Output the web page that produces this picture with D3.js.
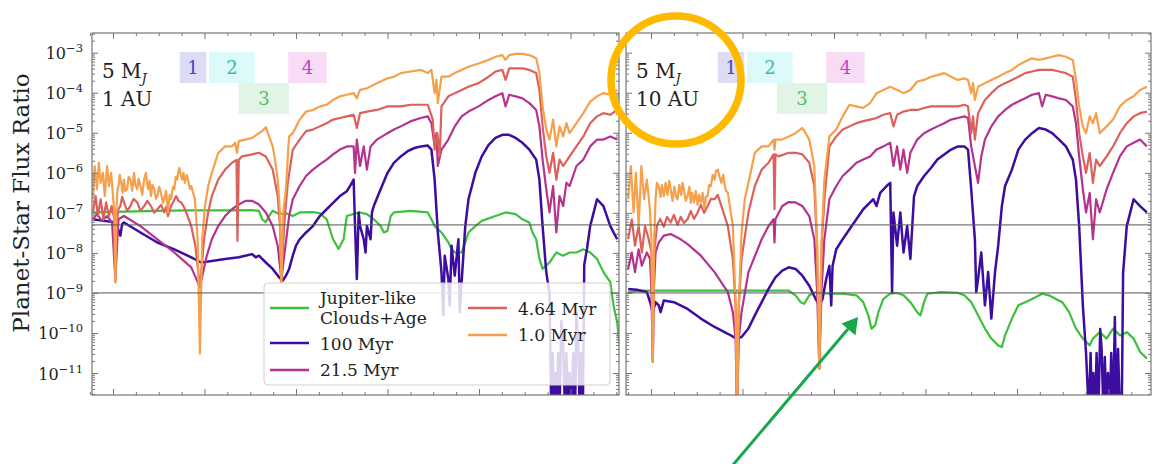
<!DOCTYPE html>
<html>
<head>
<meta charset="utf-8">
<script src="https://cdn.jsdelivr.net/npm/d3@7"></script>
<style>
  body { margin: 0; background: #fff; }
  svg { display: block; }
  text { font-family: "DejaVu Serif", serif; fill: #222; }
</style>
</head>
<body>
<div id="chart"></div>
<script>
// planet-star flux ratio spectra, 5 MJ at 1 AU and 10 AU
// points are [wavelength in micron, log10 of flux ratio]

const au1Green = [[0.356,-6.99],[0.424,-6.97],[0.497,-6.95],[0.571,-6.94],[0.645,-6.94],[0.704,-6.93],[0.719,-6.95],[0.726,-7.16],[0.734,-7.23],[0.741,-7.08],[0.749,-6.95],[0.763,-7.03],[0.778,-7.01],[0.793,-7.08],[0.808,-6.99],[0.837,-6.98],[0.852,-7.01],[0.867,-7.16],[0.874,-7.41],[0.881,-7.66],[0.893,-7.90],[0.904,-7.66],[0.911,-7.08],[0.926,-7.03],[0.940,-6.99],[0.955,-7.03],[0.970,-7.16],[0.985,-7.33],[0.992,-7.49],[1.000,-7.45],[1.007,-7.08],[1.014,-6.99],[1.051,-6.95],[1.088,-6.99],[1.096,-7.16],[1.103,-7.33],[1.118,-7.49],[1.133,-7.74],[1.140,-7.90],[1.147,-7.99],[1.162,-7.99],[1.170,-7.74],[1.177,-7.49],[1.192,-7.33],[1.206,-7.20],[1.236,-7.08],[1.258,-6.99],[1.280,-7.03],[1.295,-7.16],[1.310,-7.24],[1.317,-7.49],[1.325,-7.66],[1.332,-8.15],[1.339,-8.40],[1.354,-8.24],[1.369,-7.99],[1.384,-8.07],[1.398,-7.99],[1.413,-7.99],[1.428,-7.91],[1.443,-7.99],[1.458,-8.15],[1.472,-8.48],[1.487,-8.73],[1.494,-9.31],[1.502,-9.73],[1.508,-10.39]];

const au1Myr100 = [[0.356,-7.16],[0.379,-7.20],[0.401,-7.23],[0.409,-7.33],[0.416,-7.57],[0.420,-7.28],[0.424,-7.24],[0.460,-7.49],[0.497,-7.74],[0.534,-7.91],[0.571,-8.11],[0.593,-8.24],[0.616,-8.20],[0.645,-8.15],[0.675,-8.11],[0.689,-8.07],[0.704,-8.03],[0.712,-8.11],[0.719,-8.07],[0.734,-8.24],[0.749,-8.40],[0.763,-8.61],[0.771,-8.69],[0.778,-8.57],[0.785,-8.40],[0.793,-8.07],[0.800,-7.82],[0.808,-7.66],[0.822,-7.49],[0.837,-7.33],[0.852,-7.08],[0.867,-6.91],[0.881,-6.75],[0.896,-6.58],[0.911,-6.46],[0.918,-6.33],[0.926,-6.17],[0.929,-7.33],[0.933,-8.65],[0.937,-6.99],[0.940,-7.33],[0.948,-7.66],[0.952,-7.99],[0.955,-7.33],[0.963,-7.66],[0.966,-6.99],[0.970,-6.83],[0.985,-6.41],[1.000,-6.00],[1.014,-5.75],[1.029,-5.59],[1.044,-5.46],[1.059,-5.38],[1.073,-5.34],[1.088,-5.32],[1.096,-5.42],[1.103,-6.17],[1.110,-7.49],[1.118,-8.48],[1.122,-9.56],[1.125,-8.07],[1.133,-8.65],[1.136,-9.31],[1.140,-7.82],[1.147,-8.57],[1.155,-7.66],[1.158,-9.48],[1.162,-8.73],[1.170,-7.33],[1.177,-6.66],[1.192,-6.00],[1.206,-5.59],[1.221,-5.30],[1.236,-5.13],[1.251,-5.05],[1.266,-5.05],[1.280,-5.13],[1.295,-5.25],[1.310,-5.42],[1.325,-5.67],[1.332,-6.17],[1.339,-7.33],[1.347,-8.48],[1.354,-9.0],[1.358,-12],[1.361,-10.5],[1.364,-12],[1.367,-11],[1.370,-12],[1.373,-10.5],[1.376,-12],[1.380,-9.7],[1.384,-10.3],[1.388,-12],[1.391,-10.5],[1.395,-12],[1.398,-11],[1.402,-12],[1.406,-10.5],[1.410,-12],[1.413,-9.5],[1.417,-10.3],[1.420,-12],[1.423,-10.5],[1.427,-12],[1.430,-8.3],[1.436,-7.9],[1.443,-7.33],[1.458,-6.66],[1.472,-6.83],[1.487,-7.33],[1.502,-7.66]];

const au1Myr21 = [[0.356,-7.16],[0.365,-7.03],[0.376,-7.20],[0.387,-7.08],[0.398,-7.24],[0.405,-8.65],[0.412,-7.16],[0.424,-7.08],[0.460,-7.33],[0.497,-7.66],[0.534,-7.99],[0.571,-8.36],[0.582,-8.65],[0.590,-8.86],[0.597,-8.48],[0.605,-8.07],[0.616,-7.66],[0.630,-7.33],[0.645,-7.08],[0.660,-6.91],[0.675,-6.79],[0.690,-6.70],[0.704,-6.70],[0.719,-6.79],[0.734,-6.99],[0.749,-7.33],[0.760,-7.82],[0.768,-8.65],[0.777,-7.82],[0.785,-7.08],[0.793,-6.66],[0.808,-6.33],[0.822,-6.08],[0.837,-5.92],[0.852,-5.79],[0.867,-5.67],[0.881,-5.54],[0.896,-5.42],[0.911,-5.34],[0.926,-5.34],[0.929,-6.00],[0.933,-5.17],[0.940,-5.83],[0.948,-5.34],[0.955,-5.92],[0.963,-5.34],[0.977,-5.17],[1.000,-5.01],[1.014,-4.92],[1.029,-4.84],[1.051,-4.71],[1.073,-4.63],[1.088,-4.59],[1.096,-4.76],[1.103,-5.34],[1.107,-5.01],[1.110,-5.83],[1.118,-5.42],[1.133,-5.17],[1.147,-4.84],[1.162,-4.59],[1.177,-4.47],[1.199,-4.34],[1.221,-4.18],[1.236,-4.09],[1.251,-4.01],[1.258,-4.34],[1.266,-4.05],[1.280,-4.09],[1.295,-4.14],[1.310,-4.26],[1.325,-4.43],[1.332,-4.84],[1.339,-5.67],[1.347,-6.41],[1.354,-6.99],[1.362,-6.33],[1.369,-7.49],[1.376,-6.58],[1.384,-6.83],[1.391,-6.25],[1.398,-6.33],[1.413,-5.83],[1.428,-5.67],[1.443,-5.34],[1.458,-5.17],[1.472,-5.17],[1.487,-5.09],[1.502,-5.17]];

const au1Myr4 = [[0.356,-6.99],[0.362,-6.58],[0.367,-7.08],[0.373,-6.66],[0.379,-7.16],[0.385,-6.74],[0.391,-7.08],[0.397,-6.83],[0.403,-7.16],[0.405,-8.73],[0.409,-7.16],[0.412,-6.90],[0.416,-6.83],[0.420,-6.60],[0.424,-6.74],[0.431,-6.95],[0.438,-6.83],[0.445,-6.65],[0.453,-6.74],[0.460,-6.95],[0.468,-6.83],[0.475,-6.70],[0.483,-6.83],[0.490,-7.00],[0.497,-6.91],[0.505,-6.80],[0.512,-6.99],[0.516,-6.85],[0.520,-7.08],[0.527,-6.83],[0.533,-6.70],[0.538,-6.58],[0.543,-6.70],[0.549,-6.74],[0.555,-6.85],[0.560,-6.99],[0.571,-7.33],[0.580,-7.82],[0.590,-8.86],[0.599,-7.66],[0.608,-6.99],[0.616,-6.58],[0.630,-6.17],[0.645,-5.92],[0.660,-5.75],[0.670,-5.68],[0.672,-7.70],[0.675,-5.67],[0.682,-5.59],[0.704,-5.54],[0.719,-5.50],[0.734,-5.59],[0.749,-5.92],[0.760,-6.58],[0.765,-7.33],[0.768,-8.73],[0.774,-7.33],[0.782,-6.25],[0.793,-5.42],[0.808,-5.17],[0.822,-4.96],[0.837,-4.92],[0.852,-4.84],[0.867,-4.76],[0.881,-4.67],[0.896,-4.63],[0.911,-4.59],[0.926,-4.55],[0.933,-4.88],[0.940,-4.51],[0.955,-4.47],[0.977,-4.43],[1.000,-4.34],[1.029,-4.34],[1.051,-4.30],[1.088,-4.30],[1.099,-4.67],[1.103,-5.42],[1.109,-5.01],[1.114,-5.59],[1.118,-4.34],[1.133,-4.09],[1.147,-4.01],[1.162,-3.93],[1.177,-3.85],[1.199,-3.76],[1.221,-3.60],[1.236,-3.47],[1.251,-3.43],[1.258,-3.68],[1.266,-3.39],[1.295,-3.39],[1.310,-3.43],[1.325,-3.51],[1.332,-3.93],[1.339,-4.84],[1.347,-5.59],[1.354,-6.00],[1.362,-5.50],[1.369,-6.17],[1.376,-5.67],[1.384,-5.83],[1.398,-5.59],[1.413,-5.34],[1.428,-5.09],[1.443,-4.76],[1.458,-4.59],[1.472,-4.51],[1.487,-4.55],[1.502,-4.43]];

const au1Myr1 = [[0.356,-6.66],[0.360,-5.83],[0.365,-6.41],[0.369,-5.75],[0.373,-6.25],[0.378,-6.00],[0.382,-6.58],[0.387,-5.83],[0.391,-6.33],[0.396,-6.00],[0.400,-6.58],[0.403,-6.99],[0.405,-8.73],[0.407,-6.99],[0.410,-6.40],[0.412,-6.33],[0.415,-6.05],[0.418,-6.25],[0.421,-6.50],[0.424,-6.17],[0.427,-6.45],[0.431,-6.41],[0.434,-6.10],[0.438,-6.17],[0.442,-6.45],[0.446,-6.00],[0.449,-6.30],[0.453,-6.41],[0.456,-6.15],[0.460,-6.33],[0.464,-6.55],[0.468,-6.17],[0.472,-6.00],[0.475,-6.30],[0.477,-6.41],[0.480,-6.20],[0.483,-6.58],[0.486,-6.30],[0.490,-6.41],[0.494,-6.65],[0.497,-6.58],[0.501,-6.35],[0.505,-6.50],[0.509,-6.75],[0.512,-6.66],[0.516,-6.45],[0.520,-6.99],[0.524,-6.55],[0.527,-6.66],[0.531,-6.35],[0.534,-6.41],[0.537,-6.10],[0.540,-6.17],[0.543,-5.95],[0.545,-5.88],[0.548,-6.05],[0.551,-6.17],[0.554,-6.00],[0.557,-6.25],[0.561,-6.05],[0.564,-6.17],[0.568,-6.40],[0.571,-6.33],[0.575,-6.50],[0.579,-6.66],[0.585,-7.66],[0.590,-10.51],[0.595,-7.66],[0.601,-6.83],[0.608,-6.33],[0.616,-6.00],[0.623,-5.75],[0.630,-5.50],[0.638,-5.42],[0.645,-5.34],[0.660,-5.34],[0.667,-5.25],[0.671,-5.50],[0.675,-5.21],[0.689,-5.17],[0.704,-5.13],[0.719,-5.01],[0.726,-4.96],[0.734,-4.86],[0.741,-5.09],[0.749,-5.34],[0.754,-5.67],[0.760,-6.17],[0.765,-6.99],[0.768,-8.73],[0.772,-6.99],[0.778,-6.41],[0.783,-5.42],[0.785,-5.09],[0.793,-5.01],[0.808,-4.67],[0.822,-4.47],[0.837,-4.43],[0.852,-4.34],[0.867,-4.30],[0.881,-4.18],[0.896,-4.09],[0.911,-4.05],[0.926,-4.01],[0.933,-4.14],[0.940,-3.93],[0.955,-3.89],[0.977,-3.76],[1.000,-3.64],[1.014,-3.60],[1.029,-3.51],[1.051,-3.47],[1.073,-3.43],[1.088,-3.51],[1.096,-3.43],[1.103,-4.01],[1.107,-3.68],[1.110,-4.26],[1.118,-3.60],[1.133,-3.60],[1.147,-3.51],[1.162,-3.43],[1.177,-3.35],[1.199,-3.27],[1.221,-3.18],[1.236,-3.10],[1.251,-3.06],[1.258,-3.18],[1.266,-3.06],[1.280,-3.03],[1.295,-3.03],[1.310,-3.06],[1.325,-3.14],[1.332,-3.51],[1.339,-4.34],[1.347,-4.92],[1.354,-5.17],[1.362,-4.67],[1.369,-5.34],[1.376,-4.84],[1.384,-5.09],[1.391,-4.76],[1.398,-5.01],[1.413,-4.76],[1.428,-4.51],[1.443,-4.22],[1.458,-4.09],[1.472,-4.01],[1.487,-4.05],[1.502,-3.93]];

const au10Green = [[0.350,-8.98],[0.376,-8.94],[0.413,-8.94],[0.480,-8.94],[0.554,-8.94],[0.627,-8.94],[0.701,-8.94],[0.716,-9.06],[0.727,-9.23],[0.735,-9.27],[0.746,-9.06],[0.760,-8.98],[0.790,-9.02],[0.819,-9.02],[0.849,-9.06],[0.864,-9.23],[0.875,-9.56],[0.882,-9.89],[0.890,-9.81],[0.897,-9.48],[0.908,-9.15],[0.923,-9.02],[0.938,-9.00],[0.952,-9.06],[0.967,-9.23],[0.982,-9.48],[0.989,-9.56],[0.997,-9.23],[1.004,-9.02],[1.034,-8.98],[1.071,-9.00],[1.085,-9.06],[1.100,-9.23],[1.115,-9.56],[1.130,-9.89],[1.144,-10.14],[1.159,-10.31],[1.167,-10.35],[1.174,-10.06],[1.189,-9.64],[1.203,-9.31],[1.218,-9.23],[1.233,-9.15],[1.255,-9.02],[1.270,-9.06],[1.285,-9.15],[1.299,-9.23],[1.314,-9.48],[1.329,-9.89],[1.344,-10.14],[1.359,-10.31],[1.366,-10.14],[1.381,-9.98],[1.396,-10.14],[1.410,-9.89],[1.425,-10.06],[1.440,-9.98],[1.455,-10.14],[1.469,-10.47],[1.484,-10.64]];

const au10Myr100 = [[0.350,-8.90],[0.369,-8.92],[0.391,-8.98],[0.398,-9.23],[0.404,-9.48],[0.410,-9.23],[0.417,-9.31],[0.421,-9.48],[0.428,-9.19],[0.450,-9.23],[0.480,-9.40],[0.509,-9.64],[0.539,-9.85],[0.568,-10.02],[0.587,-10.14],[0.598,-10.10],[0.613,-9.89],[0.627,-9.56],[0.642,-9.23],[0.657,-8.90],[0.672,-8.61],[0.687,-8.44],[0.701,-8.36],[0.716,-8.40],[0.731,-8.57],[0.746,-8.82],[0.760,-9.15],[0.768,-9.31],[0.775,-9.15],[0.783,-8.65],[0.790,-8.32],[0.794,-9.31],[0.797,-8.32],[0.805,-7.91],[0.819,-7.66],[0.834,-7.41],[0.849,-7.16],[0.864,-6.91],[0.879,-6.74],[0.886,-6.66],[0.893,-6.83],[0.901,-6.50],[0.915,-6.33],[0.923,-6.25],[0.927,-8.98],[0.930,-6.99],[0.938,-7.82],[0.945,-6.99],[0.952,-7.99],[0.960,-7.33],[0.967,-8.15],[0.975,-6.58],[0.982,-6.33],[0.997,-6.08],[1.012,-5.88],[1.026,-5.67],[1.041,-5.54],[1.056,-5.42],[1.071,-5.34],[1.085,-5.34],[1.093,-5.42],[1.100,-6.41],[1.108,-7.66],[1.111,-8.98],[1.115,-8.65],[1.122,-7.99],[1.130,-9.31],[1.137,-8.48],[1.144,-9.64],[1.152,-8.48],[1.159,-7.82],[1.167,-6.83],[1.174,-6.33],[1.189,-5.92],[1.203,-5.42],[1.218,-5.17],[1.233,-5.01],[1.248,-4.88],[1.263,-4.92],[1.277,-5.01],[1.292,-5.17],[1.307,-5.34],[1.322,-5.67],[1.329,-6.17],[1.336,-7.33],[1.344,-9.31],[1.351,-10.5],[1.357,-12],[1.361,-10.5],[1.364,-12],[1.367,-11],[1.371,-12],[1.374,-10.5],[1.378,-12],[1.382,-9.9],[1.385,-10.4],[1.389,-12],[1.392,-10.6],[1.396,-12],[1.399,-11],[1.403,-12],[1.406,-10.5],[1.410,-12],[1.414,-9.6],[1.417,-12],[1.421,-10.4],[1.425,-12],[1.429,-12],[1.432,-8.5],[1.440,-7.33],[1.455,-6.66],[1.469,-6.83],[1.484,-6.99]];

const au10Myr21 = [[0.350,-8.40],[0.358,-7.99],[0.365,-8.48],[0.373,-7.91],[0.380,-8.32],[0.391,-7.99],[0.398,-8.15],[0.401,-8.98],[0.404,-10.72],[0.406,-8.98],[0.410,-7.99],[0.417,-7.74],[0.428,-7.57],[0.443,-7.53],[0.465,-7.66],[0.480,-7.78],[0.509,-8.07],[0.539,-8.48],[0.568,-8.98],[0.579,-9.48],[0.585,-10.14],[0.588,-12],[0.592,-10.14],[0.598,-9.48],[0.613,-8.48],[0.642,-7.66],[0.657,-7.33],[0.668,-7.16],[0.670,-7.74],[0.672,-7.16],[0.687,-6.83],[0.701,-6.73],[0.716,-6.74],[0.731,-6.83],[0.746,-7.08],[0.757,-7.66],[0.763,-8.90],[0.768,-10.89],[0.773,-8.90],[0.779,-7.66],[0.790,-6.66],[0.805,-6.33],[0.819,-6.08],[0.834,-5.92],[0.849,-5.75],[0.864,-5.67],[0.879,-5.59],[0.893,-5.42],[0.908,-5.34],[0.923,-5.25],[0.930,-5.83],[0.938,-5.34],[0.945,-5.92],[0.952,-5.42],[0.960,-6.00],[0.967,-5.50],[0.982,-5.17],[0.997,-5.01],[1.012,-4.92],[1.026,-4.84],[1.041,-4.76],[1.056,-4.67],[1.071,-4.63],[1.085,-4.59],[1.093,-4.63],[1.100,-5.34],[1.108,-5.83],[1.115,-6.25],[1.122,-5.59],[1.130,-5.17],[1.144,-4.84],[1.159,-4.59],[1.174,-4.43],[1.189,-4.30],[1.203,-4.22],[1.218,-4.14],[1.233,-4.05],[1.248,-4.01],[1.255,-4.34],[1.263,-4.05],[1.277,-4.09],[1.292,-4.14],[1.307,-4.18],[1.322,-4.34],[1.329,-4.76],[1.336,-5.59],[1.344,-6.41],[1.351,-6.99],[1.359,-6.50],[1.366,-7.66],[1.373,-6.66],[1.381,-6.99],[1.396,-6.41],[1.410,-6.00],[1.425,-5.59],[1.440,-5.34],[1.455,-5.25],[1.469,-5.17],[1.484,-5.34]];

const au10Myr4 = [[0.350,-7.66],[0.358,-7.16],[0.365,-7.82],[0.373,-7.33],[0.380,-7.99],[0.387,-7.33],[0.395,-7.66],[0.401,-7.99],[0.404,-10.72],[0.407,-7.99],[0.413,-7.33],[0.420,-7.15],[0.428,-7.35],[0.435,-7.10],[0.443,-7.24],[0.450,-7.05],[0.458,-7.30],[0.465,-7.10],[0.472,-7.25],[0.480,-7.16],[0.487,-6.95],[0.494,-7.15],[0.502,-6.99],[0.509,-6.80],[0.516,-7.00],[0.524,-6.83],[0.531,-6.65],[0.539,-6.66],[0.546,-6.55],[0.554,-6.83],[0.568,-7.33],[0.579,-8.15],[0.585,-9.31],[0.588,-12],[0.592,-9.31],[0.598,-8.15],[0.613,-6.99],[0.627,-6.33],[0.642,-5.92],[0.657,-5.75],[0.668,-5.54],[0.670,-6.91],[0.672,-5.54],[0.679,-5.59],[0.701,-5.50],[0.716,-5.50],[0.731,-5.54],[0.746,-5.75],[0.757,-6.33],[0.763,-7.82],[0.768,-10.89],[0.773,-7.82],[0.779,-6.66],[0.790,-5.34],[0.805,-5.09],[0.819,-4.92],[0.834,-4.84],[0.849,-4.76],[0.864,-4.71],[0.879,-4.67],[0.893,-4.63],[0.908,-4.55],[0.923,-4.51],[0.930,-4.84],[0.938,-4.55],[0.952,-4.47],[0.967,-4.43],[0.982,-4.43],[0.997,-4.38],[1.012,-4.34],[1.041,-4.34],[1.071,-4.34],[1.085,-4.30],[1.093,-4.34],[1.100,-5.01],[1.104,-4.59],[1.108,-5.17],[1.115,-4.51],[1.130,-4.18],[1.144,-4.01],[1.159,-3.85],[1.174,-3.76],[1.189,-3.68],[1.203,-3.60],[1.218,-3.51],[1.233,-3.47],[1.248,-3.43],[1.277,-3.43],[1.292,-3.47],[1.307,-3.51],[1.322,-3.60],[1.329,-4.18],[1.336,-5.01],[1.344,-5.59],[1.351,-6.00],[1.359,-5.50],[1.366,-6.25],[1.373,-5.67],[1.381,-5.83],[1.396,-5.59],[1.410,-5.34],[1.425,-5.01],[1.440,-4.76],[1.455,-4.59],[1.469,-4.51],[1.484,-4.47]];

const au10Myr1 = [[0.350,-6.66],[0.356,-5.83],[0.362,-6.99],[0.367,-6.00],[0.373,-7.33],[0.379,-5.83],[0.385,-6.66],[0.391,-6.17],[0.397,-6.83],[0.401,-7.66],[0.404,-10.72],[0.407,-7.66],[0.410,-6.66],[0.413,-6.25],[0.417,-6.33],[0.421,-6.60],[0.424,-6.30],[0.428,-6.58],[0.432,-6.25],[0.436,-6.55],[0.440,-6.20],[0.443,-6.41],[0.447,-6.70],[0.451,-6.35],[0.455,-6.60],[0.458,-6.66],[0.462,-6.30],[0.466,-6.55],[0.469,-6.25],[0.472,-6.41],[0.476,-6.70],[0.480,-6.58],[0.484,-6.35],[0.487,-6.75],[0.490,-6.50],[0.494,-6.74],[0.498,-6.45],[0.502,-6.80],[0.505,-6.55],[0.509,-6.74],[0.513,-6.50],[0.517,-6.91],[0.520,-6.60],[0.524,-6.58],[0.527,-6.30],[0.531,-6.33],[0.535,-6.05],[0.539,-6.17],[0.542,-5.95],[0.546,-5.92],[0.550,-6.10],[0.554,-6.25],[0.558,-6.05],[0.561,-6.30],[0.564,-6.45],[0.568,-6.50],[0.579,-7.33],[0.585,-9.31],[0.588,-12],[0.592,-9.31],[0.598,-7.49],[0.605,-6.66],[0.613,-6.25],[0.627,-5.50],[0.642,-5.34],[0.657,-5.34],[0.668,-5.17],[0.670,-5.42],[0.672,-5.17],[0.687,-5.17],[0.701,-5.09],[0.716,-5.01],[0.731,-4.88],[0.738,-5.01],[0.746,-5.17],[0.757,-5.83],[0.763,-7.66],[0.768,-10.89],[0.773,-7.66],[0.779,-6.17],[0.790,-5.09],[0.805,-4.92],[0.819,-4.59],[0.834,-4.30],[0.849,-4.34],[0.864,-4.38],[0.879,-4.26],[0.893,-4.01],[0.908,-3.93],[0.923,-3.85],[0.938,-3.93],[0.952,-4.01],[0.967,-3.93],[0.982,-3.72],[0.997,-3.68],[1.012,-3.60],[1.026,-3.56],[1.041,-3.51],[1.056,-3.60],[1.071,-3.68],[1.085,-3.64],[1.093,-3.68],[1.100,-4.01],[1.104,-3.76],[1.108,-4.18],[1.115,-3.85],[1.130,-3.76],[1.144,-3.68],[1.159,-3.60],[1.174,-3.51],[1.189,-3.43],[1.203,-3.31],[1.218,-3.22],[1.233,-3.14],[1.248,-3.18],[1.263,-3.14],[1.277,-3.10],[1.292,-3.06],[1.307,-3.10],[1.322,-3.18],[1.329,-3.68],[1.336,-4.34],[1.344,-4.84],[1.351,-5.01],[1.359,-4.59],[1.366,-4.76],[1.373,-4.51],[1.381,-5.01],[1.396,-4.84],[1.410,-4.67],[1.425,-4.34],[1.440,-4.18],[1.455,-4.09],[1.469,-3.93],[1.484,-3.85]];

const seriesNames = ["Jupiter-like\nClouds+Age", "100 Myr", "21.5 Myr", "4.64 Myr", "1.0 Myr"];
const seriesColors = ["#3ebf3e", "#3c0d9f", "#b5338e", "#dc605b", "#f6a04c"];

// coronagraph bands, micron
const bandNames = ["1", "2", "3", "4"];
const bandRanges = [[0.546, 0.604], [0.610, 0.710], [0.675, 0.785], [0.783, 0.867]];
const bandFills = ["#dcdcf4", "#ddfafa", "#e2f4e5", "#f8dcf6"];
const bandText = ["#4545c6", "#3fb8b2", "#55c158", "#c044c6"];
const bandRow = [0, 0, 1, 0];

const refLevels = [5e-8, 1e-9];
const yDecades = [-11, -10, -9, -8, -7, -6, -5, -4, -3];
const xMajor = [0.4, 0.6, 0.8, 1.0, 1.2, 1.4];

const width = 1153, height = 464;
const plotTop = 33, plotBottom = 395;

const panels = [
  { x0: 92, x1: 619, domain: [0.3541, 1.506], dist: "1 AU", yLabels: true,
    series: [au1Green, au1Myr100, au1Myr21, au1Myr4, au1Myr1] },
  { x0: 626, x1: 1151, domain: [0.3454, 1.493], dist: "10 AU", yLabels: false,
    series: [au10Green, au10Myr100, au10Myr21, au10Myr4, au10Myr1] }
];

const svg = d3.select("#chart").append("svg")
  .attr("width", width)
  .attr("height", height);

const y = d3.scaleLog().domain([Math.pow(10, -11.549), Math.pow(10, -2.508)]).range([plotBottom, plotTop]);

const xMinor = d3.range(0.35, 1.51, 0.05).map(v => +v.toFixed(2)).filter(v => !xMajor.some(m => Math.abs(m - v) < 1e-6));
const yMinor = [];
yDecades.concat([-12]).forEach(e => { for (let k = 2; k <= 9; k++) yMinor.push(k * Math.pow(10, e)); });
const yMinorIn = yMinor.filter(v => v >= y.domain()[0] && v <= y.domain()[1]);

panels.forEach((p, i) => {
  const x = d3.scaleLinear().domain(p.domain).range([p.x0, p.x1]);
  const g = svg.append("g");

  g.append("clipPath").attr("id", "clip" + i)
    .append("rect").attr("x", p.x0).attr("y", plotTop).attr("width", p.x1 - p.x0).attr("height", plotBottom - plotTop);

  // band boxes
  bandRanges.forEach((b, k) => {
    const yb = plotTop + 19 + bandRow[k] * 31;
    g.append("rect")
      .attr("x", x(b[0])).attr("y", yb)
      .attr("width", x(b[1]) - x(b[0])).attr("height", 31)
      .attr("fill", bandFills[k]);
    g.append("text")
      .attr("x", (x(b[0]) + x(b[1])) / 2).attr("y", yb + 22)
      .attr("text-anchor", "middle")
      .attr("font-size", 18)
      .style("fill", bandText[k])
      .text(bandNames[k]);
  });

  const line = d3.line()
    .x(d => x(d[0]))
    .y(d => y(Math.pow(10, d[1])));

  const curves = g.append("g").attr("clip-path", `url(#clip${i})`);
  p.series.forEach((s, k) => {
    curves.append("path")
      .datum(s)
      .attr("fill", "none")
      .attr("stroke", seriesColors[k])
      .attr("stroke-width", k === 1 ? 2.5 : 2.2)
      .attr("stroke-linejoin", "round")
      .attr("d", line);
  });

  // reference levels
  refLevels.forEach(v => {
    g.append("line")
      .attr("x1", p.x0).attr("x2", p.x1)
      .attr("y1", y(v)).attr("y2", y(v))
      .attr("stroke", "#555").attr("stroke-width", 1);
  });

  // ticks, all pointing inward
  const tickStyle = sel => {
    sel.select(".domain").remove();
    sel.selectAll("line").attr("stroke", "#777");
  };
  g.append("g").attr("transform", `translate(0,${plotBottom})`)
    .call(d3.axisBottom(x).tickValues(xMajor).tickSize(-6).tickFormat("")).call(tickStyle);
  g.append("g").attr("transform", `translate(0,${plotBottom})`)
    .call(d3.axisBottom(x).tickValues(xMinor).tickSize(-3).tickFormat("")).call(tickStyle);
  g.append("g").attr("transform", `translate(0,${plotTop})`)
    .call(d3.axisTop(x).tickValues(xMajor).tickSize(-6).tickFormat("")).call(tickStyle);
  g.append("g").attr("transform", `translate(0,${plotTop})`)
    .call(d3.axisTop(x).tickValues(xMinor).tickSize(-3).tickFormat("")).call(tickStyle);

  const yMaj = yDecades.map(e => Math.pow(10, e));
  g.append("g").attr("transform", `translate(${p.x0},0)`)
    .call(d3.axisLeft(y).tickValues(yMinorIn).tickSize(-3).tickFormat("")).call(tickStyle);
  g.append("g").attr("transform", `translate(${p.x1},0)`)
    .call(d3.axisRight(y).tickValues(yMinorIn).tickSize(-3).tickFormat("")).call(tickStyle);
  g.append("g").attr("transform", `translate(${p.x1},0)`)
    .call(d3.axisRight(y).tickValues(yMaj).tickSize(-6).tickFormat("")).call(tickStyle);
  const yl = g.append("g").attr("transform", `translate(${p.x0},0)`)
    .call(d3.axisLeft(y).tickValues(yMaj).tickSize(-6).tickPadding(9).tickFormat(""))
    .call(tickStyle);

  if (p.yLabels) {
    yl.selectAll(".tick text").each(function (d) {
      const t = d3.select(this).attr("dy", null).attr("y", 6)
        .attr("font-family", "DejaVu Serif").attr("font-size", 16).style("fill", "#222");
      t.text(null);
      t.append("tspan").text("10");
      t.append("tspan").attr("dy", -7).attr("font-size", 11.5).text("\u2212" + Math.round(-Math.log10(d)));
    });
  }

  g.append("rect")
    .attr("x", p.x0).attr("y", plotTop)
    .attr("width", p.x1 - p.x0).attr("height", plotBottom - plotTop)
    .attr("fill", "none").attr("stroke", "#777").attr("stroke-width", 1.2);

  // mass / distance label
  const lab = g.append("text").attr("x", p.x0 + 10).attr("y", 78).attr("font-size", 20);
  lab.append("tspan").text("5 M");
  lab.append("tspan").attr("dy", 5).attr("font-size", 13).attr("font-style", "italic").text("J");
  g.append("text").attr("x", p.x0 + 10).attr("y", 106).attr("font-size", 20).text(p.dist);
});

// legend in the left panel
const leg = svg.append("g").attr("transform", "translate(264,283)");
leg.append("rect")
  .attr("width", 346).attr("height", 102).attr("rx", 4)
  .attr("fill", "rgba(255,255,255,0.82)").attr("stroke", "#cfcfcf");
const legPos = [
  { hx: 6, hy: 25, tx: 56, ty: [21, 41] },
  { hx: 6, hy: 60, tx: 56, ty: [67] },
  { hx: 6, hy: 87, tx: 56, ty: [93] },
  { hx: 204, hy: 25, tx: 254, ty: [32] },
  { hx: 204, hy: 52, tx: 254, ty: [58] }
];
seriesNames.forEach((name, k) => {
  const lp = legPos[k];
  leg.append("line")
    .attr("x1", lp.hx).attr("x2", lp.hx + 39)
    .attr("y1", lp.hy).attr("y2", lp.hy)
    .attr("stroke", seriesColors[k]).attr("stroke-width", 2.5);
  name.split("\n").forEach((part, j) => {
    leg.append("text").attr("x", lp.tx).attr("y", lp.ty[j]).attr("font-size", 17).text(part);
  });
});

// y axis title
svg.append("text")
  .attr("transform", "translate(29,203) rotate(-90)")
  .attr("text-anchor", "middle")
  .attr("font-size", 23)
  .text("Planet-Star Flux Ratio");

// highlight ring and arrow
svg.append("ellipse")
  .attr("cx", 676).attr("cy", 80).attr("rx", 65).attr("ry", 64)
  .attr("fill", "none").attr("stroke", "#ffba00").attr("stroke-width", 7.5);

svg.append("line")
  .attr("x1", 727).attr("y1", 472).attr("x2", 848).attr("y2", 329)
  .attr("stroke", "#16a94c").attr("stroke-width", 3);
svg.append("path")
  .attr("d", "M858,317 L855.5,335.5 L841.5,323.5 Z")
  .attr("fill", "#16a94c");
</script>
</body>
</html>
